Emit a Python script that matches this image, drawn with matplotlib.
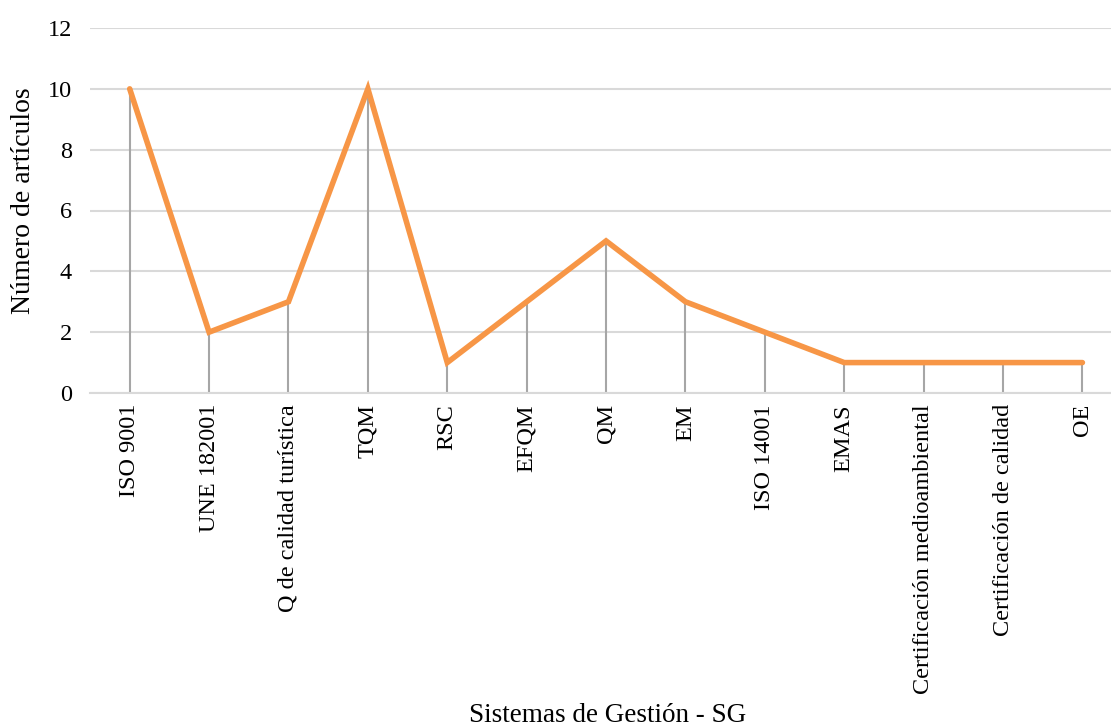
import matplotlib
matplotlib.use("Agg")
import matplotlib.pyplot as plt

categories = ["ISO 9001", "UNE 182001", "Q de calidad turística", "TQM", "RSC", "EFQM",
              "QM", "EM", "ISO 14001", "EMAS", "Certificación medioambiental",
              "Certificación de calidad", "OE"]
values = [10, 2, 3, 10, 1, 3, 5, 3, 2, 1, 1, 1, 1]
yticks = [0, 2, 4, 6, 8, 10, 12]

plt.rcParams['font.family'] = ['Liberation Serif', 'DejaVu Serif']

fig = plt.figure(figsize=(11.11, 7.28), dpi=100)
ax = fig.add_axes([90/1111, (728-393)/728, 1 - 90/1111, (393-28)/728])

x = list(range(len(categories)))
ax.vlines(x, 0, values, colors="#A6A6A6", linewidth=1.5, zorder=2)
ax.plot(x, values, color="#F79646", linewidth=4.0, solid_joinstyle="miter", solid_capstyle="round", zorder=3)

ax.set_xlim(-0.5, 12.36)
ax.set_ylim(0, 12)
ax.set_yticks(yticks)
ax.set_yticklabels([str(v) for v in yticks], fontsize=17.5)
ax.set_xticks(x)
ax.set_xticklabels(categories, rotation=90, fontsize=17.5, va="top", ha="center")
ax.tick_params(axis="both", length=0, pad=8)
ax.tick_params(axis="y", pad=13)
ax.grid(axis="y", color="#D9D9D9", linewidth=1.5, zorder=0)
ax.set_axisbelow(True)
for s in ["top", "right", "left"]:
    ax.spines[s].set_visible(False)
ax.spines["bottom"].set_color("#D9D9D9")
ax.spines["bottom"].set_linewidth(1.5)

fig.text(608/1111, 1 - 715/728, "Sistemas de Gestión - SG", fontsize=19.5, ha="center", va="center")
fig.text(24/1111, 1 - 201/728, "Número de artículos", fontsize=20, ha="center", va="center", rotation=90)

fig.savefig("out.png", dpi=100)
